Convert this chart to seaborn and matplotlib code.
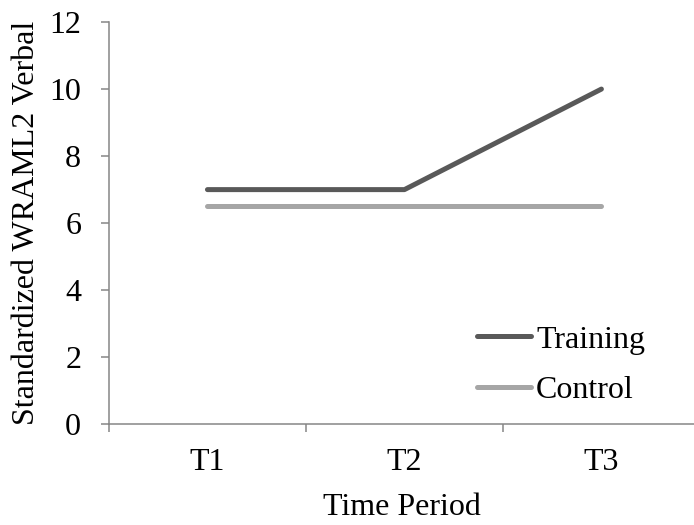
import pandas as pd
import matplotlib.pyplot as plt
import seaborn as sns

# data
periods = ['T1', 'T2', 'T3']
training = [7, 7, 10]
control = [6.5, 6.5, 6.5]

df = pd.DataFrame({
    'period': periods * 2,
    'score': training + control,
    'group': ['Training'] * 3 + ['Control'] * 3,
})

sns.set_style('white')
plt.rcParams['font.family'] = ['Liberation Serif', 'DejaVu Serif']
plt.rcParams['text.color'] = 'black'
plt.rcParams['axes.labelcolor'] = 'black'
plt.rcParams['xtick.labelcolor'] = 'black'
plt.rcParams['ytick.labelcolor'] = 'black'

fig = plt.figure(figsize=(6.94, 5.25), dpi=100)
ax = fig.add_axes([0.157, 0.192, 0.843, 0.766])

sns.lineplot(data=df, x='period', y='score', hue='group',
             palette={'Training': '#595959', 'Control': '#a6a6a6'},
             linewidth=3.6, ax=ax, sort=False)

ax.set_ylim(0, 12)
ax.set_yticks(range(0, 13, 2))
ax.set_xlim(-0.5, 2.47)
ax.set_xticks([0, 1, 2])
ax.set_xticklabels(periods)
ax.set_xticks([-0.5, 0.5, 1.5], minor=True)

axis_color = '#868686'
for side in ['top', 'right']:
    ax.spines[side].set_visible(False)
for side in ['left', 'bottom']:
    ax.spines[side].set_color(axis_color)
    ax.spines[side].set_linewidth(1.1)

ax.tick_params(axis='x', which='major', length=0, pad=17, labelsize=23)
ax.tick_params(axis='x', which='minor', bottom=True, length=6, width=1.1,
               color=axis_color, direction='out')
ax.tick_params(axis='y', left=True, length=6, width=1.1, color=axis_color,
               direction='out', pad=14, labelsize=23)

ax.set_xlabel('Time Period', fontsize=23, labelpad=12)
ax.set_ylabel('Standardized WRAML2 Verbal', fontsize=23, labelpad=6)

leg = ax.legend(loc='center left', bbox_to_anchor=(477 / 694, 1 - 365 / 525),
                bbox_transform=fig.transFigure, frameon=False, fontsize=23,
                borderpad=0, borderaxespad=0, handlelength=1.7,
                handletextpad=0.15, labelspacing=0.65)
for line in leg.get_lines():
    line.set_solid_capstyle('round')

fig.savefig('out.png', dpi=100)
